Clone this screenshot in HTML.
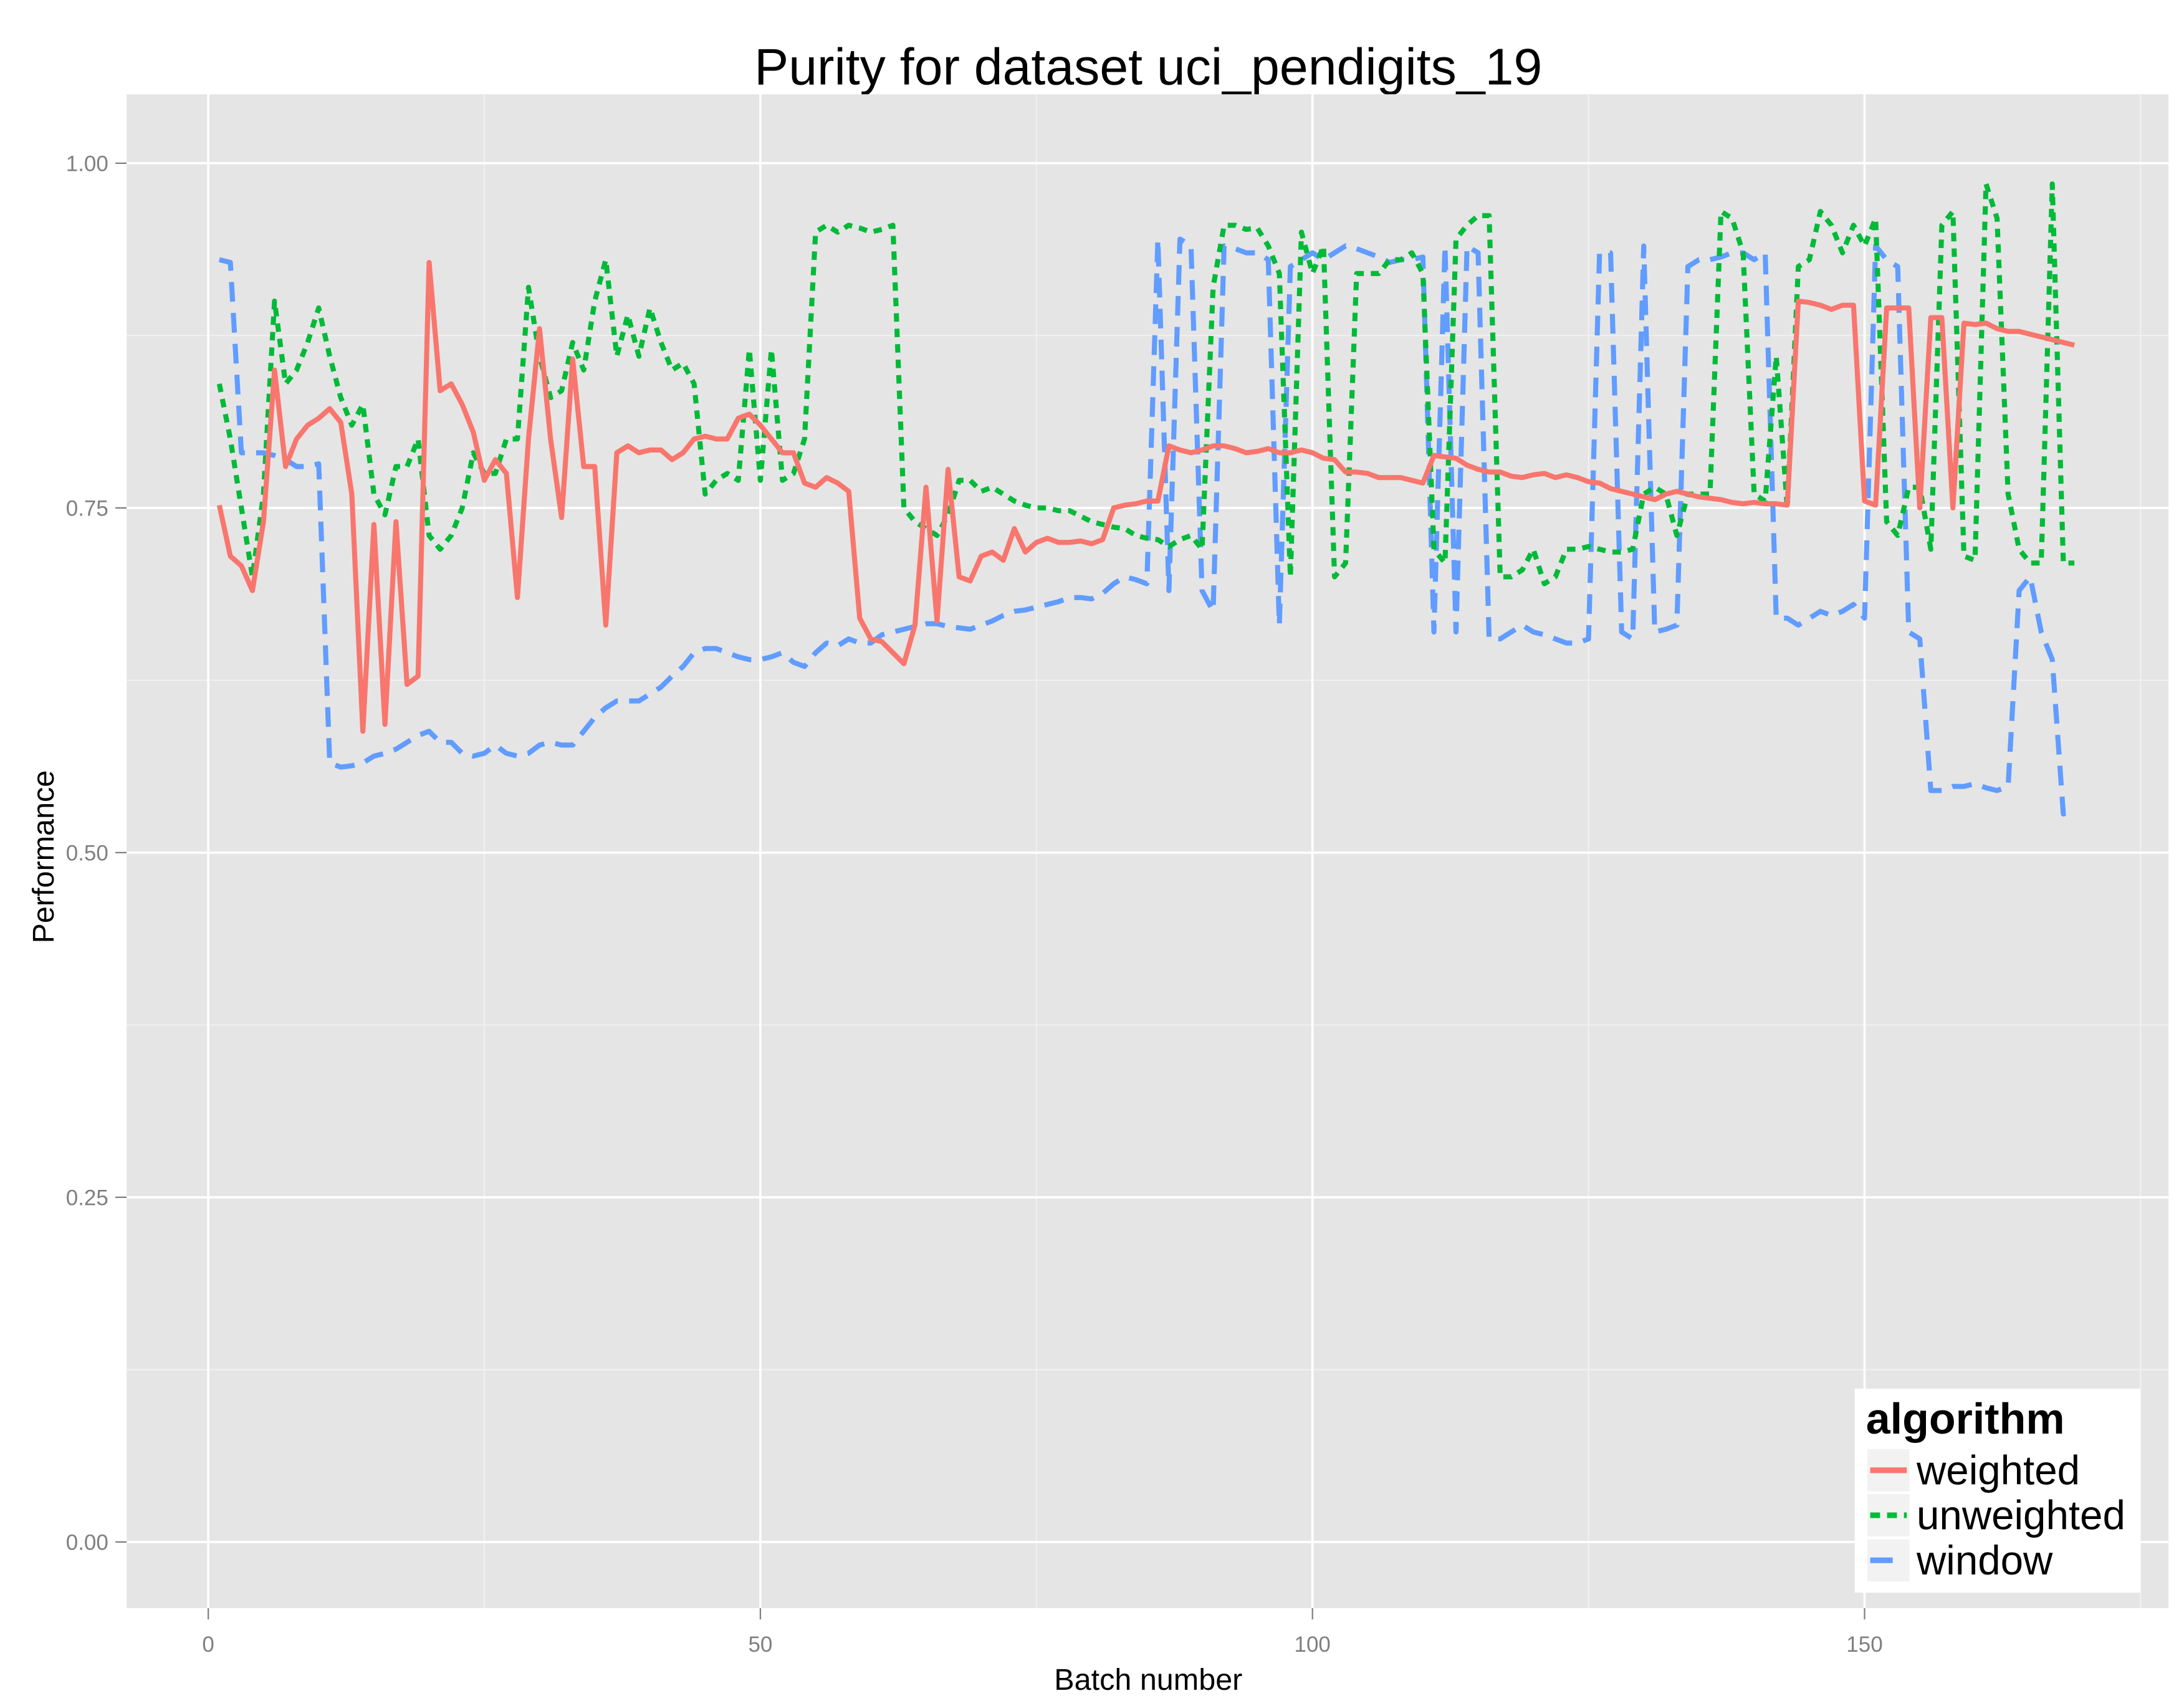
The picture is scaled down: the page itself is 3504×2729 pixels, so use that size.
<!DOCTYPE html>
<html><head><meta charset="utf-8"><style>
html,body{margin:0;padding:0;background:#fff;}
svg{display:block;}
text{font-family:"Liberation Sans",Arial,sans-serif;}
</style></head><body>
<svg id="chart" width="3504" height="2729" viewBox="0 0 1552 1209" preserveAspectRatio="none" xmlns="http://www.w3.org/2000/svg">
<rect x="0" y="0" width="1552" height="1209" fill="#fff"/>
<text x="816" y="60" text-anchor="middle" font-size="36.5" fill="#000">Purity for dataset uci_pendigits_19</text>
<rect x="90" y="67" width="1451" height="1076" fill="#e5e5e5"/>
<g id="grid"></g>
<g id="axes"></g>
<g id="series"></g>
<text x="816" y="1201" text-anchor="middle" font-size="21.5" fill="#000">Batch number</text>
<text transform="translate(38,609) rotate(-90)" text-anchor="middle" font-size="21.5" fill="#000">Performance</text>
<g>
<rect x="1318" y="987" width="203" height="145" fill="#fff"/>
<text x="1326" y="1019" font-size="31" font-weight="bold" fill="#000">algorithm</text>
<g>
<rect x="1327" y="1030" width="30" height="30" fill="#f2f2f2"/>
<line x1="1329" y1="1045" x2="1355" y2="1045" stroke="#f8766d" stroke-width="4"/>
<text x="1362" y="1055" font-size="29" fill="#000">weighted</text></g>
<g>
<rect x="1327" y="1062" width="30" height="30" fill="#f2f2f2"/>
<line x1="1329" y1="1077" x2="1355" y2="1077" stroke="#00ba38" stroke-width="4" stroke-dasharray="7 5"/>
<text x="1362" y="1087" font-size="29" fill="#000">unweighted</text></g>
<g>
<rect x="1327" y="1094" width="30" height="30" fill="#f2f2f2"/>
<line x1="1329" y1="1109" x2="1345" y2="1109" stroke="#619cff" stroke-width="4"/>
<text x="1362" y="1119" font-size="29" fill="#000">window</text></g>
</g>
</svg>
<script>
const xTicks = [0, 50, 100, 150];
const xMinor = [25, 75, 125, 175];
const yTicks = [0, 0.25, 0.5, 0.75, 1.0];
const yTickLabels = ["0.00", "0.25", "0.50", "0.75", "1.00"];
const yMinor = [0.125, 0.375, 0.625, 0.875];
const weighted = [0.752,0.715,0.708,0.69,0.74,0.85,0.78,0.80,0.81,0.815,0.822,0.812,0.76,0.588,0.738,0.593,0.74,0.622,0.628,0.928,0.835,0.84,0.825,0.805,0.77,0.785,0.775,0.685,0.80,0.88,0.80,0.743,0.858,0.78,0.78,0.665,0.79,0.795,0.79,0.792,0.792,0.785,0.79,0.80,0.802,0.80,0.80,0.815,0.818,0.81,0.80,0.79,0.79,0.768,0.765,0.772,0.768,0.762,0.67,0.655,0.653,0.645,0.637,0.665,0.765,0.668,0.778,0.70,0.697,0.715,0.718,0.712,0.735,0.718,0.725,0.728,0.725,0.725,0.726,0.724,0.727,0.75,0.752,0.753,0.755,0.755,0.795,0.792,0.79,0.792,0.795,0.795,0.793,0.79,0.791,0.793,0.79,0.79,0.792,0.79,0.786,0.785,0.776,0.776,0.775,0.772,0.772,0.772,0.77,0.768,0.788,0.787,0.786,0.781,0.778,0.776,0.776,0.773,0.772,0.774,0.775,0.772,0.774,0.772,0.769,0.768,0.764,0.762,0.76,0.758,0.756,0.76,0.762,0.76,0.758,0.757,0.756,0.754,0.753,0.754,0.753,0.753,0.752,0.90,0.899,0.897,0.894,0.897,0.897,0.755,0.752,0.895,0.895,0.895,0.75,0.888,0.888,0.75,0.884,0.883,0.884,0.88,0.878,0.878,0.876,0.874,0.872,0.87,0.868];
const unweighted = [0.84,0.80,0.75,0.70,0.76,0.90,0.84,0.85,0.87,0.895,0.86,0.83,0.81,0.825,0.76,0.745,0.78,0.78,0.80,0.73,0.72,0.73,0.75,0.79,0.775,0.775,0.80,0.80,0.91,0.86,0.83,0.835,0.87,0.85,0.90,0.93,0.86,0.89,0.86,0.895,0.87,0.85,0.855,0.84,0.76,0.77,0.775,0.77,0.865,0.77,0.865,0.77,0.775,0.80,0.95,0.955,0.95,0.955,0.953,0.95,0.952,0.955,0.75,0.74,0.735,0.73,0.745,0.77,0.77,0.762,0.765,0.76,0.755,0.752,0.75,0.75,0.748,0.748,0.744,0.74,0.738,0.736,0.735,0.73,0.728,0.727,0.722,0.727,0.73,0.72,0.91,0.955,0.955,0.952,0.953,0.94,0.92,0.70,0.95,0.92,0.94,0.70,0.71,0.92,0.92,0.92,0.93,0.93,0.935,0.92,0.72,0.71,0.945,0.955,0.962,0.962,0.70,0.70,0.705,0.72,0.695,0.70,0.72,0.72,0.722,0.72,0.718,0.718,0.72,0.76,0.765,0.76,0.73,0.76,0.76,0.76,0.965,0.96,0.935,0.76,0.755,0.86,0.75,0.925,0.93,0.965,0.955,0.935,0.955,0.94,0.96,0.74,0.73,0.765,0.765,0.72,0.955,0.965,0.715,0.712,0.985,0.96,0.76,0.72,0.71,0.71,0.985,0.71,0.71];
const windowSeries = [0.93,0.928,0.79,0.79,0.79,0.788,0.785,0.78,0.78,0.782,0.565,0.562,0.563,0.565,0.57,0.572,0.575,0.58,0.585,0.588,0.58,0.58,0.572,0.57,0.572,0.578,0.572,0.57,0.572,0.578,0.58,0.578,0.578,0.588,0.598,0.605,0.61,0.61,0.61,0.615,0.62,0.628,0.635,0.645,0.648,0.648,0.645,0.642,0.64,0.64,0.642,0.645,0.638,0.635,0.645,0.652,0.65,0.655,0.652,0.652,0.658,0.66,0.662,0.664,0.666,0.666,0.664,0.663,0.662,0.665,0.668,0.672,0.675,0.676,0.678,0.68,0.682,0.685,0.685,0.684,0.688,0.695,0.70,0.698,0.695,0.945,0.69,0.945,0.94,0.69,0.675,0.94,0.938,0.935,0.935,0.93,0.665,0.925,0.93,0.935,0.93,0.935,0.94,0.938,0.935,0.932,0.928,0.93,0.93,0.932,0.66,0.94,0.66,0.94,0.935,0.655,0.655,0.66,0.665,0.66,0.658,0.655,0.652,0.652,0.655,0.935,0.935,0.66,0.655,0.94,0.66,0.662,0.665,0.925,0.93,0.93,0.932,0.935,0.935,0.93,0.935,0.67,0.67,0.665,0.67,0.675,0.672,0.675,0.68,0.67,0.94,0.93,0.925,0.66,0.655,0.545,0.545,0.548,0.548,0.55,0.547,0.545,0.548,0.69,0.70,0.66,0.64,0.528,0.53];

const NS = "http://www.w3.org/2000/svg";
const X0 = 148, XS = (1325 - 148) / 150;
const Y0 = 1096, YS = (1096 - 116);
function xScale(v){ return X0 + v * XS; }
function yScale(v){ return Y0 - v * YS; }
function mk(tag, attrs, parent){
  const el = document.createElementNS(NS, tag);
  for (const k in attrs) el.setAttribute(k, attrs[k]);
  parent.appendChild(el);
  return el;
}
const grid = document.getElementById('grid');
const axes = document.getElementById('axes');
const series = document.getElementById('series');

yMinor.forEach(v => {
  const l = mk('line', {x1:90, x2:1541, y1:yScale(v), y2:yScale(v), stroke:'#f2f2f2', 'stroke-width':0.8}, grid);
  
  
});
xMinor.forEach(v => {
  if (xScale(v) > 1541) return;
  const l = mk('line', {x1:xScale(v), x2:xScale(v), y1:67, y2:1143, stroke:'#f2f2f2', 'stroke-width':0.8}, grid);
  
  
});
yTicks.forEach((v, i) => {
  const l = mk('line', {x1:90, x2:1541, y1:yScale(v), y2:yScale(v), stroke:'#fff', 'stroke-width':1.6}, grid);
  
  
  const t = mk('line', {x1:82, x2:90, y1:yScale(v), y2:yScale(v), stroke:'#7f7f7f', 'stroke-width':1}, axes);
  
  
  const tx = mk('text', {x:77, y:yScale(v) + 5.5, 'text-anchor':'end', 'font-size':15.5, fill:'#7f7f7f'}, axes);
  tx.textContent = yTickLabels[i];
  
  
});
xTicks.forEach(v => {
  const l = mk('line', {x1:xScale(v), x2:xScale(v), y1:67, y2:1143, stroke:'#fff', 'stroke-width':1.6}, grid);
  
  
  const t = mk('line', {x1:xScale(v), x2:xScale(v), y1:1143, y2:1151, stroke:'#7f7f7f', 'stroke-width':1}, axes);
  
  
  const tx = mk('text', {x:xScale(v), y:1174, 'text-anchor':'middle', 'font-size':15.5, fill:'#7f7f7f'}, axes);
  tx.textContent = String(v);
  
  
});
function pts(arr){ return arr.map((v, i) => xScale(i + 1).toFixed(2) + ',' + yScale(v).toFixed(2)).join(' '); }
const w = mk('polyline', {points:pts(windowSeries), fill:'none', stroke:'#619cff', 'stroke-width':3.6, 'stroke-dasharray':'14 8', 'stroke-linejoin':'round'}, series);


const u = mk('polyline', {points:pts(unweighted), fill:'none', stroke:'#00ba38', 'stroke-width':3.6, 'stroke-dasharray':'6 5', 'stroke-linejoin':'round'}, series);


const r = mk('polyline', {points:pts(weighted), fill:'none', stroke:'#f8766d', 'stroke-width':3.6, 'stroke-linejoin':'round'}, series);


</script>
</body></html>
